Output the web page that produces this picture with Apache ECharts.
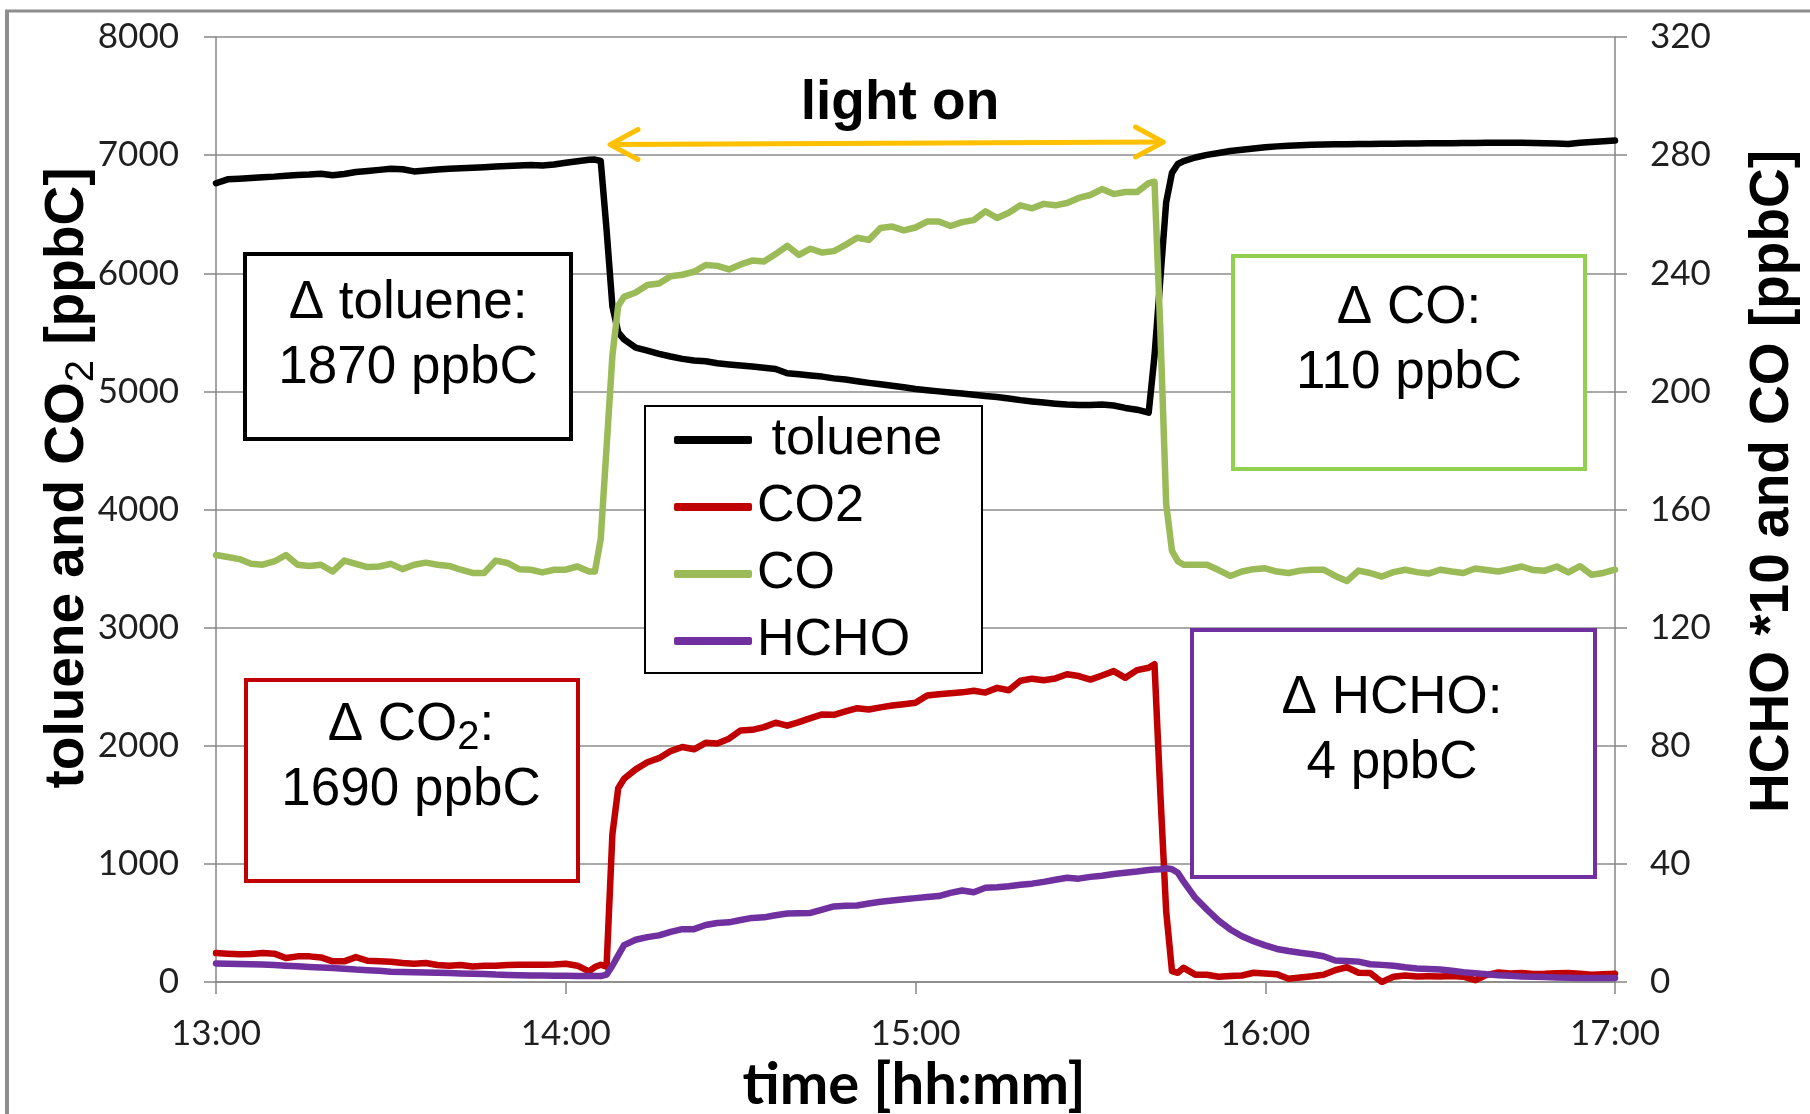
<!DOCTYPE html>
<html><head><meta charset="utf-8">
<script src="https://cdn.jsdelivr.net/npm/echarts@6/dist/echarts.min.js"></script>
<style>html,body{margin:0;padding:0;background:#fff}#c{width:1810px;height:1114px}</style>
</head><body><div id="c"></div>
<script>
// time in minutes since midnight
const times = [780,782,784,786,788,790,792,794,796,798,800,802,804,806,808,810,812,814,816,818,820,822,824,826,828,830,832,834,836,838,840,842,844,
845,846,847,848,849,850,
852,854,856,858,860,862,864,866,868,870,872,874,876,878,880,882,884,886,888,890,892,894,896,898,900,902,904,906,908,910,912,914,916,918,920,922,924,926,928,930,932,934,936,938,940,
941,942,943,944,945,946,
948,950,952,954,956,958,960,962,964,966,968,970,972,974,976,978,980,982,984,986,988,990,992,994,996,998,1000,1002,1004,1006,1008,1010,1012,1014,1016,1018,1020];

const toluene = [6762,6795,6800,6806,6813,6818,6826,6832,6835,6842,6830,6840,6857,6865,6875,6885,6880,6862,6870,6878,6884,6889,6893,6898,6903,6908,6913,6917,6912,6920,6935,6948,6960,
6962,6950,6370,5720,5500,5440,
5370,5345,5318,5295,5275,5262,5255,5238,5228,5220,5210,5200,5190,5154,5145,5134,5125,5110,5100,5086,5072,5060,5048,5035,5020,5010,5000,4990,4982,4972,4960,4952,4940,4926,4915,4905,4896,4888,4885,4884,4888,4880,4860,4845,4820,
5300,5950,6600,6850,6925,6950,
6980,7002,7018,7035,7046,7056,7066,7074,7080,7084,7088,7090,7092,7093,7094,7095,7096,7097,7098,7099,7100,7100,7101,7102,7103,7104,7105,7105,7104,7103,7100,7098,7094,7105,7112,7118,7123];

const co2 = [245,240,234,237,245,240,203,217,217,208,175,175,211,180,175,172,161,155,161,144,138,144,132,138,138,144,146,146,146,149,155,138,90,
127,146,130,1250,1640,1720,
1800,1860,1895,1955,1989,1970,2025,2020,2060,2130,2135,2158,2195,2170,2200,2234,2265,2262,2290,2318,2307,2325,2340,2352,2364,2425,2436,2444,2452,2465,2450,2490,2470,2550,2568,2555,2570,2605,2590,2560,2595,2632,2575,2640,2660,
2690,1600,600,92,78,120,
62,62,45,50,55,78,72,65,28,38,48,62,100,125,78,76,0,45,55,47,48,47,50,45,15,60,80,72,76,68,70,75,76,70,62,66,70];

const co = [144.6,143.9,143.2,141.6,141.3,142.4,144.6,141.3,140.9,141.3,139.0,142.7,141.6,140.5,140.7,141.6,139.8,141.3,142.0,141.3,140.9,139.6,138.5,138.5,142.7,141.9,139.8,139.6,138.7,139.6,139.6,140.7,139.0,
139,150,181,212,229,232,
233.5,236.0,236.5,239.0,239.5,240.5,242.8,242.5,241.3,243.0,244.3,244.0,246.5,249.3,246.2,248.3,247.0,247.5,249.6,252.0,251.3,255.3,255.8,254.5,255.5,257.5,257.5,256.0,257.3,258.0,261.0,258.7,260.5,263.0,262.0,263.5,263.0,263.8,265.5,266.5,268.5,266.8,267.5,267.5,270.5,
271.0,220.8,162,146,142.5,141.3,
141.3,141.3,139.5,137.5,139.0,139.8,140.1,139.0,138.5,139.3,139.6,139.6,137.5,135.8,139.3,138.5,137.3,138.8,139.6,138.8,138.3,139.6,139.0,138.5,140.0,139.5,139.0,139.8,140.7,139.5,139.3,140.7,138.7,140.8,137.9,138.5,139.6];

// HCHO * 10
const hcho = [6.3,6.2,6.1,6.0,5.9,5.75,5.5,5.3,5.1,4.9,4.7,4.5,4.2,4.0,3.8,3.5,3.4,3.3,3.2,3.1,3.05,2.9,2.8,2.7,2.5,2.4,2.3,2.2,2.2,2.1,2.1,2.0,2.0,
2.0,2.0,2.5,5.5,9.0,12.5,
14.3,15.2,15.8,17.0,17.9,17.9,19.3,20.0,20.2,21.0,21.7,21.9,22.6,23.2,23.3,23.4,24.5,25.6,25.8,25.9,26.6,27.2,27.6,28.0,28.4,28.8,29.1,30.2,31.0,30.4,31.9,32.1,32.4,32.9,33.3,33.9,34.6,35.3,35.0,35.6,36.0,36.6,37.0,37.4,37.9,
38.1,38.2,38.5,38.2,37.0,34.0,
28.5,24.5,20.8,17.8,15.5,13.8,12.4,11.2,10.5,9.9,9.4,8.7,7.3,7.1,6.9,6.0,5.8,5.5,5.0,4.6,4.4,4.2,3.8,3.3,3.0,2.6,2.3,2.1,1.9,1.8,1.7,1.5,1.4,1.35,1.35,1.35,1.35];

const seriesNames = ['toluene','CO2','CO','HCHO'];
const seriesColors = ['#000000','#c00000','#9bbb59','#7030a0'];
const xRange = {min:780, max:1020, interval:60};
const leftRange = {min:0, max:8000, interval:1000};
const rightRange = {min:0, max:320, interval:40};

const pair = arr => times.map((t,i)=>[t, arr[i]]);
const gray = '#868686';
const tickFont = {fontFamily:'Lato, "Open Sans", sans-serif', fontSize:35, color:'#1f1f1f'};
const arial = '"Liberation Sans", Arial, sans-serif';
const fmtTime = v => Math.floor(v/60) + ':' + String(v%60).padStart(2,'0');
const fmtNum = v => String(v);

const chart = echarts.init(document.getElementById('c'), null, {renderer:'canvas'});
const mkSeries = (i, data, axis) => ({
  name: seriesNames[i], type:'line', yAxisIndex:axis, data: pair(data),
  symbol:'none', showSymbol:false, smooth:false, color: seriesColors[i],
  lineStyle:{color:seriesColors[i], width:6.5, cap:'round', join:'round'},
  z: 2 + i*0.1
});

chart.setOption({
  animation:false,
  backgroundColor:'#ffffff',
  grid:{left:216, right:195, top:37, bottom:132, containLabel:false, outerBoundsMode:'none'},
  xAxis:{type:'value', min:xRange.min, max:xRange.max, interval:xRange.interval,
    axisLine:{show:true, onZero:false, lineStyle:{color:gray, width:1.5}},
    axisTick:{show:true, inside:false, length:12, lineStyle:{color:gray, width:1.5}},
    axisLabel:Object.assign({margin:34, formatter:fmtTime}, tickFont),
    splitLine:{show:false}},
  yAxis:[
    {type:'value', position:'left', min:leftRange.min, max:leftRange.max, interval:leftRange.interval,
     axisLine:{show:true, lineStyle:{color:gray, width:1.5}},
     axisTick:{show:true, inside:false, length:12, lineStyle:{color:gray, width:1.5}},
     axisLabel:Object.assign({margin:37, formatter:fmtNum}, tickFont),
     splitLine:{show:true, lineStyle:{color:'#8c8c8c', width:1.5}}},
    {type:'value', position:'right', min:rightRange.min, max:rightRange.max, interval:rightRange.interval,
     axisLine:{show:true, lineStyle:{color:gray, width:1.5}},
     axisTick:{show:true, inside:false, length:12, lineStyle:{color:gray, width:1.5}},
     axisLabel:Object.assign({margin:35, formatter:fmtNum}, tickFont),
     splitLine:{show:false}}
  ],
  legend:{
    data: seriesNames, orient:'vertical', left:674, top:412, padding:0,
    itemWidth:78, itemHeight:8, itemGap:11, icon:'roundRect', z:6,
    formatter: n => n === 'toluene' ? ' toluene' : n,
    textStyle:{fontFamily:arial, fontSize:52, lineHeight:56, color:'#000'}
  },
  series:[
    mkSeries(0, toluene, 0),
    mkSeries(1, co2, 0),
    mkSeries(2, co, 1),
    mkSeries(3, hcho, 1)
  ],
  graphic:[
    {type:'line', z:1, shape:{x1:7,y1:10,x2:7,y2:1114}, style:{stroke:'#8e8e8e', lineWidth:4}},
    {type:'line', z:1, shape:{x1:5,y1:11,x2:1810,y2:11}, style:{stroke:'#8e8e8e', lineWidth:3}},
    {type:'rect', z:3, shape:{x:645,y:406,width:337,height:267}, style:{fill:'#fff', stroke:'#000', lineWidth:2}},
    {type:'rect', z:3, shape:{x:245,y:254,width:326,height:185}, style:{fill:'#fff', stroke:'#000', lineWidth:4}},
    {type:'rect', z:3, shape:{x:246,y:680,width:332,height:201}, style:{fill:'#fff', stroke:'#c00000', lineWidth:4}},
    {type:'rect', z:3, shape:{x:1233,y:256,width:352,height:213}, style:{fill:'#fff', stroke:'#92d050', lineWidth:4}},
    {type:'rect', z:3, shape:{x:1192,y:630,width:403,height:247}, style:{fill:'#fff', stroke:'#7030a0', lineWidth:4}},
    {type:'text', z:10, x:408, y:335.5, style:{text:'Δ toluene:\n1870 ppbC', align:'center', verticalAlign:'middle',
      fontFamily:arial, fontSize:53, lineHeight:65, fill:'#000'}},
    {type:'text', z:10, x:411, y:758, style:{text:'{a|Δ CO}{s|2}{a|:}\n{a|1690 ppbC}', align:'center', verticalAlign:'middle',
      fill:'#000', rich:{a:{fontFamily:arial, fontSize:53, lineHeight:65, fill:'#000'}, s:{fontFamily:arial, fontSize:40, lineHeight:40, verticalAlign:'bottom', fill:'#000'}}}},
    {type:'text', z:10, x:1409, y:341, style:{text:'Δ CO:\n110 ppbC', align:'center', verticalAlign:'middle',
      fontFamily:arial, fontSize:53, lineHeight:65, fill:'#000'}},
    {type:'text', z:10, x:1392, y:731, style:{text:'Δ HCHO:\n4 ppbC', align:'center', verticalAlign:'middle',
      fontFamily:arial, fontSize:53, lineHeight:65, fill:'#000'}},
    {type:'text', z:10, x:900, y:104, style:{text:'light on', align:'center', verticalAlign:'middle',
      fontFamily:arial, fontSize:55, fontWeight:'bold', fill:'#000'}},
    {type:'polyline', z:10, shape:{points:[[612,144.5],[1161,142]]}, style:{stroke:'#ffc000', lineWidth:5, lineCap:'round', fill:null}},
    {type:'polyline', z:10, shape:{points:[[638,129.5],[610,144.6],[638,159.5]]}, style:{stroke:'#ffc000', lineWidth:5, lineCap:'round', lineJoin:'round', fill:null}},
    {type:'polyline', z:10, shape:{points:[[1135.5,127],[1163.4,142.1],[1135.5,157]]}, style:{stroke:'#ffc000', lineWidth:5, lineCap:'round', lineJoin:'round', fill:null}},
    {type:'text', z:10, x:914, y:1085, style:{text:'time [hh:mm]', align:'center', verticalAlign:'middle',
      fontFamily:'Lato, "Open Sans", sans-serif', fontSize:58, fontWeight:'bold', fill:'#000'}},
    {type:'text', z:10, x:68, y:478, rotation:Math.PI/2, style:{text:'{a|toluene and CO}{s|2}{a| [ppbC]}', align:'center', verticalAlign:'middle',
      fill:'#000', rich:{a:{fontFamily:arial, fontSize:55, fontWeight:'bold', lineHeight:68, fill:'#000'}, s:{fontFamily:arial, fontSize:40, lineHeight:40, verticalAlign:'bottom', fill:'#000'}}}},
    {type:'text', z:10, x:1773, y:481.5, rotation:Math.PI/2, style:{text:'HCHO *10 and CO [ppbC]', align:'center', verticalAlign:'middle',
      fontFamily:arial, fontSize:55, fontWeight:'bold', fill:'#000'}}
  ]
});
</script>
</body></html>
